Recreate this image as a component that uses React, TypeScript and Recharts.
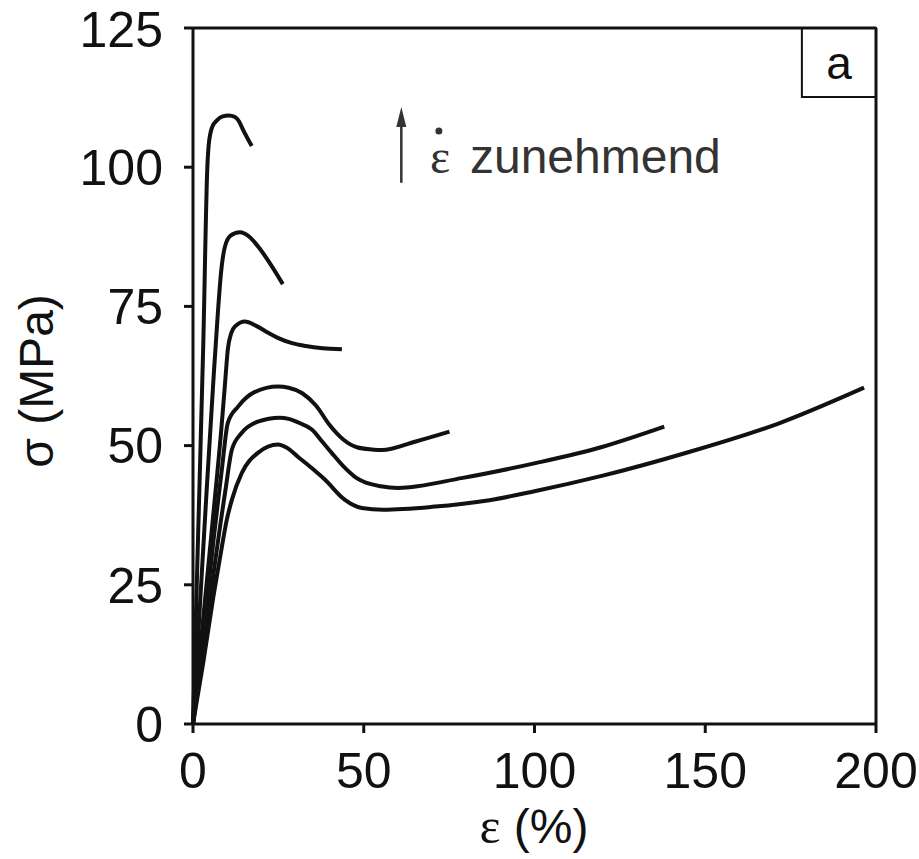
import { LineChart, Line, XAxis, YAxis, ReferenceLine, ReferenceArea, ReferenceDot } from 'recharts';

// strain (%) / stress (MPa) per strain rate, fastest first
const strainA = [0, 1.5, 3, 4.2, 4.6, 5.6, 7, 8.5, 10.5, 12.3, 13.5, 14.6, 17.2];
const stressA = [0, 34, 68, 100, 104, 107.2, 108.4, 109.1, 109.3, 109, 108.2, 106.8, 103.8];

const strainB = [0, 2, 4, 6, 7.3, 8.2, 9.3, 11, 13.7, 16.5, 19, 23.1, 26.3];
const stressB = [0, 21, 42, 62, 74, 81, 85.6, 87.7, 88.3, 87.5, 85.8, 82.2, 79];

const strainC = [0, 3, 6, 8.3, 9.4, 10.2, 11.2, 12.3, 15.2, 18.5, 21.9, 25, 29, 33, 38, 43.6];
const stressC = [0, 19, 38, 53, 61.3, 67.3, 70.2, 71.4, 72.3, 71.5, 70.3, 69.3, 68.4, 67.9, 67.5, 67.3];

const strainD = [0, 3, 6, 8.5, 10.2, 13.2, 18, 24.9, 28, 32, 36, 40, 44, 48, 52.3, 55.3, 65, 75.1];
const stressD = [0, 16, 33, 46, 54.1, 57, 59.6, 60.6, 60.4, 59.4, 57.2, 53.7, 51.1, 49.7, 49.3, 49.2, 50.7, 52.5];

const strainE = [0, 3, 6, 9.5, 11.4, 14.3, 19, 25.4, 28, 31, 34.8, 38, 40.6, 44, 47.4, 50, 55, 60, 79, 100.6, 120, 138];
const stressE = [0, 13, 27, 42, 49.3, 52.3, 54.3, 55, 54.8, 54.1, 52.9, 50.6, 48.7, 46.3, 44.4, 43.5, 42.7, 42.4, 44.2, 46.9, 49.8, 53.4];

const strainF = [0, 3, 6, 8.5, 9.9, 11.4, 14.3, 19, 24.9, 27.5, 30.7, 34.5, 38.6, 44.4, 49.4, 55.6, 70, 86.8, 100, 120, 145, 171.6, 196.5];
const stressF = [0, 11, 23, 32, 36.7, 40.3, 45.1, 48.7, 50.2, 49.6, 48, 46.1, 43.9, 40.3, 38.8, 38.5, 39, 40.2, 41.8, 44.6, 48.8, 54, 60.4];

const xTicks = [0, 50, 100, 150, 200];
const yTicks = [0, 25, 50, 75, 100, 125];

const curves = [
  [strainA, stressA],
  [strainB, stressB],
  [strainC, stressC],
  [strainD, stressD],
  [strainE, stressE],
  [strainF, stressF],
].map(([xs, ys]) => xs.map((x, i) => ({ x, y: ys[i] })));

const font = '"Liberation Sans", Arial, sans-serif';
const serif = '"Liberation Serif", "Times New Roman", serif';

const YLabel = () => (
  <text
    x={53}
    y={381}
    transform="rotate(-90, 53, 381)"
    textAnchor="middle"
    fontFamily={font}
    fontSize={48}
    fill="#111"
  >
    σ (MPa)
  </text>
);

const XLabel = () => (
  <text x={534} y={843} textAnchor="middle" fontFamily={font} fontSize={48} fill="#111">
    <tspan fontFamily={serif} fontSize={50}>ε</tspan> (%)
  </text>
);

const AnnoText = (text: string, family: string) => (p: any) => (
  <text x={p.cx} y={p.cy} fontFamily={family} fontSize={48} fill="#333">
    {text}
  </text>
);

const ArrowHead = (p: any) => (
  <path d={`M${p.cx},${p.cy} L${p.cx - 5},${p.cy + 20} L${p.cx + 5},${p.cy + 20} Z`} fill="#333" />
);

export default function App() {
  return (
    <div style={{ position: 'absolute', left: 0, top: 0, background: '#fff' }}>
      <LineChart width={919} height={859} margin={{ top: 28, right: 43, left: 0, bottom: 0 }}>
        <XAxis
          type="number"
          dataKey="x"
          domain={[0, 200]}
          ticks={xTicks}
          height={135}
          stroke="#111"
          strokeWidth={3}
          tickSize={9}
          tickMargin={19}
          tick={{ fill: '#111', fontSize: 50, fontFamily: font }}
          label={<XLabel />}
        />
        <YAxis
          type="number"
          dataKey="y"
          domain={[0, 125]}
          ticks={yTicks}
          width={193}
          stroke="#111"
          strokeWidth={3}
          tickSize={9}
          tickMargin={21}
          tick={{ fill: '#111', fontSize: 50, fontFamily: font }}
          label={<YLabel />}
        />
        <ReferenceLine y={125} stroke="#111" strokeWidth={3} />
        <ReferenceLine x={200} stroke="#111" strokeWidth={3} />
        <ReferenceArea
          x1={178.3}
          x2={200}
          y1={112.6}
          y2={125}
          fill="#fff"
          fillOpacity={1}
          stroke="#111"
          strokeWidth={2}
          label={{ value: 'a', position: 'center', fontSize: 46, fontFamily: font, fill: '#111' }}
        />
        <ReferenceLine
          segment={[
            { x: 61, y: 97.2 },
            { x: 61, y: 108 },
          ]}
          stroke="#333"
          strokeWidth={2.5}
        />
        <ReferenceDot x={61} y={110.8} r={0} shape={ArrowHead} />
        <ReferenceDot x={72} y={106.5} r={3.5} fill="#333" stroke="none" />
        <ReferenceDot x={69.4} y={99} r={0} shape={AnnoText('ε', serif)} />
        <ReferenceDot x={81.1} y={99} r={0} shape={AnnoText('zunehmend', font)} />
        {curves.map((data, i) => (
          <Line
            key={i}
            data={data}
            dataKey="y"
            type="monotone"
            stroke="#111"
            strokeWidth={4}
            dot={false}
            activeDot={false}
            isAnimationActive={false}
          />
        ))}
      </LineChart>
    </div>
  );
}
